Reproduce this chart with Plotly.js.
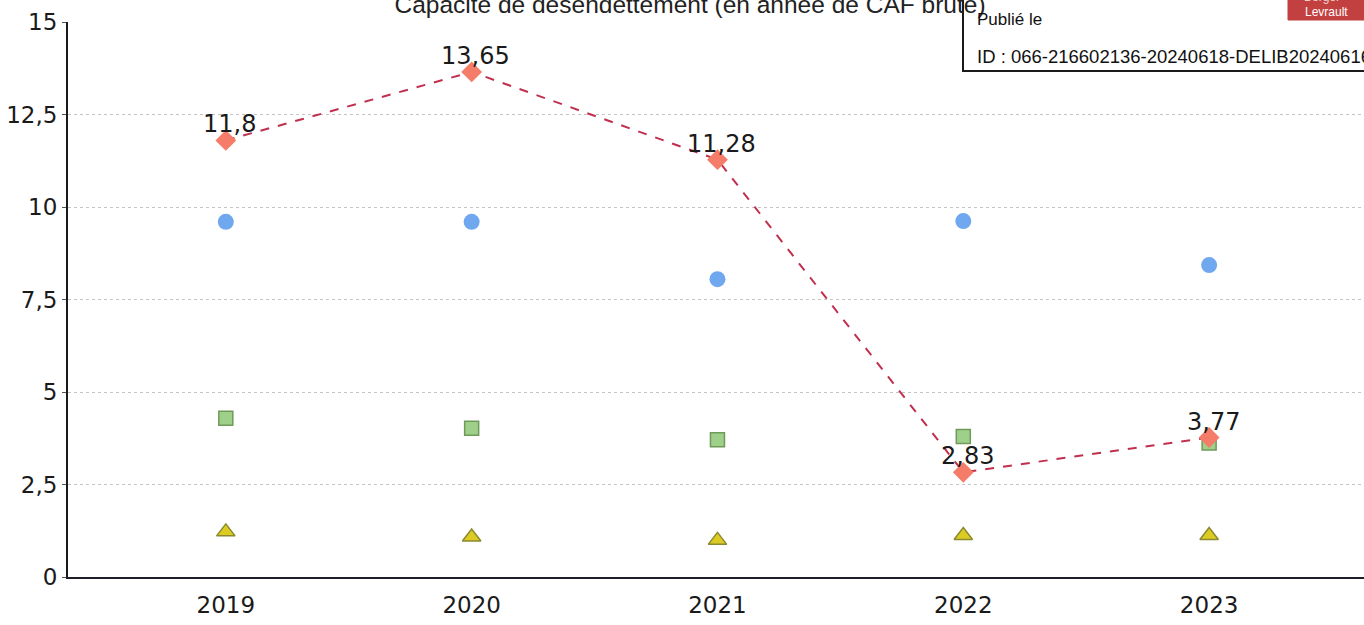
<!DOCTYPE html>
<html>
<head>
<meta charset="utf-8">
<script src="https://cdn.plot.ly/plotly-3.0.1.min.js"></script>
<style>
  html, body { margin: 0; padding: 0; background: #ffffff; }
  #chart { width: 1364px; height: 625px; }
</style>
</head>
<body>
<div id="chart"></div>
<script>
// Years on the x axis
const years = ['2019', '2020', '2021', '2022', '2023'];
// Capacité de désendettement (années de CAF brute), labelled series
const capacite = [11.8, 13.65, 11.28, 2.83, 3.77];
// Comparison series drawn as markers only
const serieBleue = [9.6, 9.6, 8.05, 9.62, 8.43];
const serieVerte = [4.29, 4.02, 3.71, 3.8, 3.62];
const serieJaune = [1.22, 1.08, 0.99, 1.12, 1.12];
// Y axis ticks
const yTicks = [0, 2.5, 5, 7.5, 10, 12.5, 15];

const W = 1364, H = 625;
const M = { l: 68, r: 0, t: 22, b: 48 };
const plotW = W - M.l - M.r, plotH = H - M.t - M.b;
// pixel -> paper helpers for the stamp overlay
const px = x => (x - M.l) / plotW;
const py = y => (H - M.b - y) / plotH;

const fmt = v => String(v).replace('.', ',');
const sans = 'DejaVu Sans, Verdana, sans-serif';
const arial = 'Liberation Sans, Arial, sans-serif';

const traces = [
  {
    x: years, y: serieBleue, type: 'scatter', mode: 'markers', name: 'Série bleue',
    marker: { symbol: 'circle', size: 16, color: '#6fa8ee', line: { width: 0 } }
  },
  {
    x: years, y: serieVerte, type: 'scatter', mode: 'markers', name: 'Série verte',
    marker: { symbol: 'square', size: 14, color: '#9fd08a', line: { width: 1.5, color: '#6f9a5a' } }
  },
  {
    x: years, y: serieJaune, type: 'scatter', mode: 'markers', name: 'Série jaune',
    marker: { symbol: 'triangle-up', size: 16, color: '#dccb22', line: { width: 1.5, color: '#8a8a30' } }
  },
  {
    x: years, y: capacite, type: 'scatter', mode: 'lines+markers', name: 'Capacité de désendettement',
    line: { color: '#c0304e', width: 2, dash: 'dash' },
    marker: { symbol: 'diamond', size: 16, color: '#f47c68', line: { width: 0 } }
  }
];

// value labels above the diamonds (category axis: position by index)
const annotations = capacite.map((v, i) => ({
  x: i, y: v, xref: 'x', yref: 'y',
  text: fmt(v), showarrow: false,
  xanchor: 'center', yanchor: 'bottom', xshift: 4, yshift: 0,
  font: { family: sans, size: 24, color: '#1a1a1a' }
}));

// stamp texts
annotations.push(
  { xref: 'paper', yref: 'paper', x: px(975), y: py(19), xanchor: 'left', yanchor: 'middle',
    text: 'Publié le', showarrow: false, font: { family: arial, size: 17, color: '#111' } },
  { xref: 'paper', yref: 'paper', x: px(975), y: py(56), xanchor: 'left', yanchor: 'middle',
    text: 'ID : 066-216602136-20240618-DELIB20240616', showarrow: false,
    font: { family: arial, size: 18.5, color: '#111' } },
  { xref: 'paper', yref: 'paper', x: px(1326), y: py(12), xanchor: 'center', yanchor: 'middle',
    text: 'Levrault', showarrow: false, font: { family: arial, size: 12, color: '#ffffff' } },
  { xref: 'paper', yref: 'paper', x: px(1322), y: py(-3), xanchor: 'center', yanchor: 'middle',
    text: 'Berger', showarrow: false, font: { family: arial, size: 12, color: '#f4d0d0' } }
);

const shapes = [
  { type: 'rect', xref: 'paper', yref: 'paper', layer: 'above',
    x0: px(963), x1: px(1380), y0: py(71), y1: py(-10),
    fillcolor: '#ffffff', line: { color: '#1a1a1a', width: 2 } },
  { type: 'rect', xref: 'paper', yref: 'paper', layer: 'above',
    x0: px(1288), x1: px(1372), y0: py(20), y1: py(-8),
    fillcolor: '#c2403f', line: { color: '#c2403f', width: 1 } }
];

const layout = {
  width: W, height: H,
  margin: M,
  paper_bgcolor: '#ffffff', plot_bgcolor: '#ffffff',
  separators: ', ',
  showlegend: false,
  title: {
    text: 'Capacité de désendettement (en année de CAF brute)',
    font: { family: arial, size: 24.5, color: '#222' },
    x: 690 / W, xanchor: 'center', xref: 'container',
    y: 1 - 4 / H, yanchor: 'middle', yref: 'container'
  },
  xaxis: {
    type: 'category', range: [-0.642, 4.63],
    showgrid: false, zeroline: false,
    showline: true, linecolor: '#1e1e2a', linewidth: 2,
    ticks: '', ticklabelstandoff: 6,
    tickfont: { family: sans, size: 23, color: '#1a1a1a' }
  },
  yaxis: {
    range: [0, 15], tickvals: yTicks,
    showgrid: true, gridcolor: '#c4c4c4', griddash: 'dot', gridwidth: 1,
    zeroline: false,
    showline: true, linecolor: '#1a1a1a', linewidth: 2,
    ticks: 'outside', ticklen: 4, tickcolor: '#555', tickwidth: 1,
    tickfont: { family: sans, size: 23, color: '#1a1a1a' }
  },
  annotations: annotations,
  shapes: shapes
};

Plotly.newPlot('chart', traces, layout, { displayModeBar: false, staticPlot: true });
</script>
</body>
</html>
